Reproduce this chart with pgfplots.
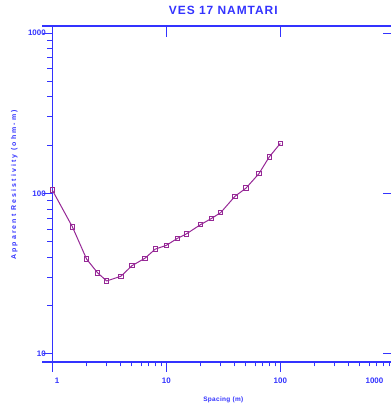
\documentclass[border=0pt]{standalone}
\usepackage{pgfplots}
\pgfplotsset{compat=1.18}
\usepackage{fontspec}
\setmainfont{Liberation Sans}
\newfontfamily\ylabfont[LetterSpace=30]{Liberation Sans}
\newfontfamily\titlefont[LetterSpace=8]{Liberation Sans}
\newfontfamily\xlabfont[LetterSpace=5]{Liberation Sans}
\definecolor{axblue}{RGB}{51,51,255}
\definecolor{curve}{RGB}{150,40,150}
\begin{document}
\begin{tikzpicture}
\begin{axis}[
  scale only axis, width=342bp, height=336bp,
  at={(0,0)}, anchor=south west,
  xmode=log, ymode=log,
  xmin=1, xmax=1000, ymin=8.91, ymax=1106,
  every tick/.style={axblue, line width=1bp},
  xminorticks=false, yminorticks=false,
  axis line style={axblue, line width=1.2bp},
  tick align=inside,
  xtick pos=left, ytick pos=left,
  major tick length=-9bp,
  xtick={1,10,100,1000},
  xticklabels={{\makebox[0pt][l]{\hspace{2.5bp}1}},10,100,{\makebox[0pt][r]{1000\hspace{11bp}}}},
  ytick={10,100,1000},
  yticklabels={10,100,1000},
  tick label style={font=\bfseries\fontsize{8}{8}\selectfont, text=axblue},
  xticklabel style={anchor=north, yshift=-12bp},
  yticklabel style={anchor=east, xshift=-3bp},
  title={VES 17 NAMTARI},
  title style={font=\titlefont\bfseries\fontsize{12}{12}\selectfont, text=axblue,
    at={(axis description cs:0.5,1)}, anchor=base, yshift=6bp},
  xlabel={Spacing (m)},
  xlabel style={font=\xlabfont\bfseries\fontsize{6.5}{6.5}\selectfont, text=axblue,
    at={(axis description cs:0.5,0)}, anchor=base, yshift=-39.5bp},
  ylabel={Apparent Resistivity (ohm-m)},
  ylabel style={font=\ylabfont\bfseries\fontsize{7}{7}\selectfont, text=axblue,
    at={(axis description cs:0,0.527)}, anchor=center, yshift=38bp},
  clip=false,
]
% axis-line extensions at the left
\draw[axblue, line width=1.2bp] ([xshift=-10bp]axis cs:1,8.91) -- (axis cs:1,8.91);
\draw[axblue, line width=1.2bp] ([xshift=-10bp]axis cs:1,1106) -- (axis cs:1,1106);
% bottom major ticks
\pgfplotsinvokeforeach{1,10,100,1000}{
  \draw[axblue, line width=1bp] ([yshift=-10bp]axis cs:#1,8.91) -- (axis cs:#1,8.91);
}
% bottom minor ticks
\pgfplotsinvokeforeach{2,3,4,5,6,7,8,9,20,30,40,50,60,70,80,90,200,300,400,500,600,700,800,900}{
  \draw[axblue, line width=1bp] ([yshift=-4.5bp]axis cs:#1,8.91) -- (axis cs:#1,8.91);
}
% left minor ticks
\pgfplotsinvokeforeach{20,30,40,50,60,70,80,90,200,300,400,500,600,700,800,900}{
  \draw[axblue, line width=1bp] ([xshift=-5bp]axis cs:1,#1) -- (axis cs:1,#1);
}
\addplot[curve, line width=1bp, mark=square, mark size=2.2bp,
  mark options={line width=0.9bp, fill=none}]
coordinates {
(1,105) (1.5,62) (2,39) (2.5,32) (3,28.5) (4,30.5) (5,35.5) (6.5,39.5)
(8,45) (10,47.5) (12.5,52.5) (15,56) (20,64) (25,70) (30,76) (40,96)
(50,108) (65,133) (80,169) (100,205)
};
\end{axis}
% major ticks, top and right, inside
\begin{axis}[
  scale only axis, width=342bp, height=336bp,
  at={(0,0)}, anchor=south west,
  xmode=log, ymode=log,
  xmin=1, xmax=1000, ymin=8.91, ymax=1106,
  every tick/.style={axblue, line width=1bp},
  xminorticks=false, yminorticks=false,
  axis line style={draw=none},
  tick align=inside,
  xtick pos=right, ytick pos=right,
  major tick length=11bp,
  xtick={10,100,1000}, ytick={10,100,1000},
  xticklabels={}, yticklabels={},
]
\end{axis}
\pgfresetboundingbox
\useasboundingbox (-52.3bp,-41bp) rectangle (338.7bp,362bp);
\end{tikzpicture}
\end{document}
